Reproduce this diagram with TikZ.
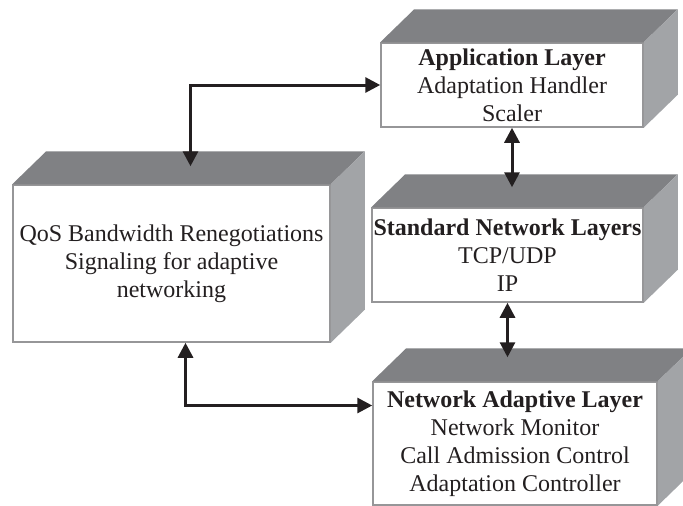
\documentclass[tikz,border=0pt]{standalone}
\usepackage{fontspec}
\setmainfont{Liberation Serif}
\usetikzlibrary{arrows.meta}
\definecolor{topface}{RGB}{128,129,132}
\definecolor{sideface}{RGB}{162,164,167}
\definecolor{rimgray}{RGB}{150,150,152}
\definecolor{inkblack}{RGB}{35,31,32}

\begin{document}
\begin{tikzpicture}[
    x=1pt, y=-1pt,
    every node/.style={font=\fontsize{24}{28}\selectfont, align=center, text=inkblack},
    layer/.style={draw=rimgray, line width=1.5pt, fill=white, inner sep=0pt},
    link/.style={{Triangle[length=15pt,width=15pt]}-{Triangle[length=15pt,width=15pt]}, line width=3pt, draw=inkblack}
]
\useasboundingbox (0,0) rectangle (683,506);
\clip (0,0) rectangle (683,506);

\node[layer, minimum width=317pt, minimum height=157pt] (qos) at (171.5,263.5) {QoS Bandwidth Renegotiations\\Signaling for adaptive\\networking};
\node[layer, minimum width=262pt, minimum height=84pt] (app) at (512,85) {\textbf{Application Layer}\\Adaptation Handler\\Scaler};
\node[layer, minimum width=271pt, minimum height=94pt] (std) at (507.5,255) {\textbf{Standard Network Layers}\\TCP/UDP\\IP};
\node[layer, minimum width=284pt, minimum height=123pt] (nal) at (515,443.5) {\textbf{Network Adaptive Layer}\\Network Monitor\\Call Admission Control\\Adaptation Controller};

% top and side faces of the slabs
\foreach \n in {qos,app,std,nal} {
  \fill[topface] (\n.north west) -- ++(34,-33) -- ([shift={(34,-33)}]\n.north east) -- (\n.north east) -- cycle;
  \fill[sideface] (\n.north east) -- ++(34,-33) -- ([shift={(34,-33)}]\n.south east) -- (\n.south east) -- cycle;
}

\coordinate (qosin) at ([xshift=19pt,yshift=18pt]qos.north);
\coordinate (stdin) at ([yshift=20pt]std.north);
\coordinate (nalin) at ([yshift=24pt]nal.north);

\draw[link] (app.west) -| (qosin);
\draw[link] (app.south) -- (app.south |- stdin);
\draw[link] (std.south) -- (std.south |- nalin);
\draw[link] ([xshift=14pt]qos.south) |- ([yshift=38pt]nal.west);
\end{tikzpicture}
\end{document}
